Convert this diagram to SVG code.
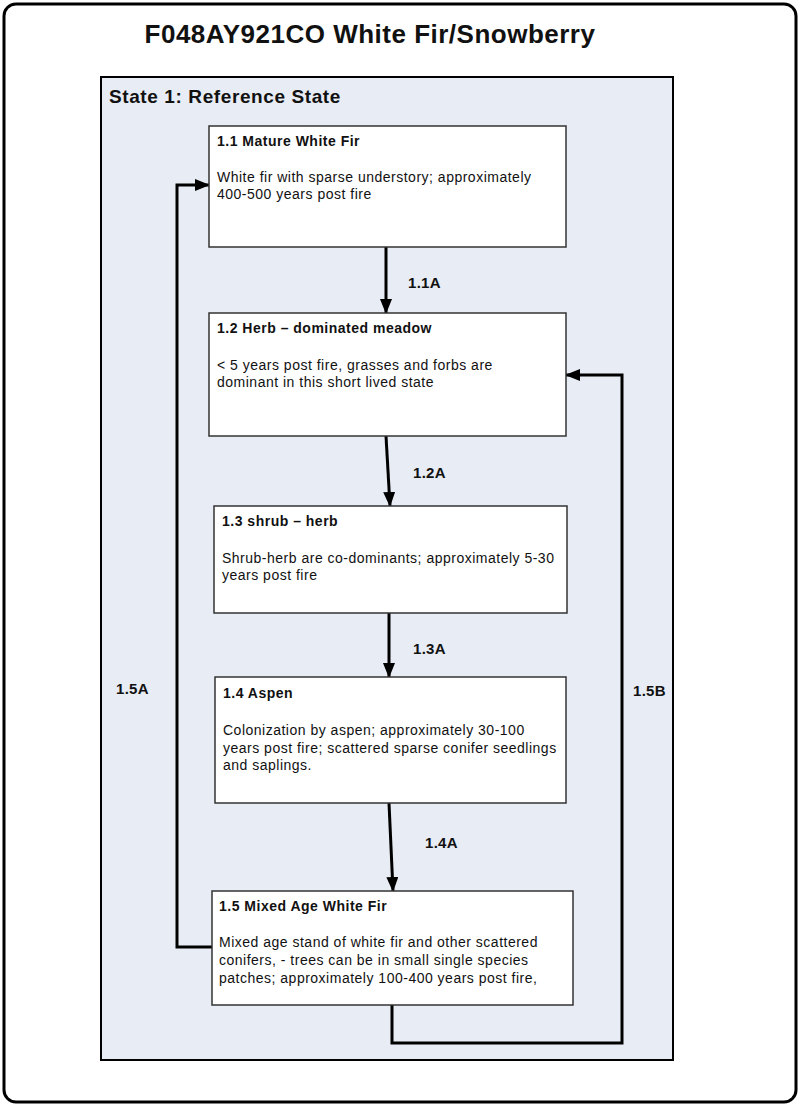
<svg xmlns="http://www.w3.org/2000/svg" width="800" height="1106" viewBox="0 0 800 1106">
<style>
.t{font-family:"Liberation Sans",Arial,sans-serif;fill:#111}
.h{font-size:14px;font-weight:bold;letter-spacing:0.5px}
.b{font-size:14px;letter-spacing:0.5px}
.lab{font-size:15px;font-weight:bold;letter-spacing:0.3px}
.box{fill:#fff;stroke:#333;stroke-width:1.5}
.con{fill:none;stroke:#000;stroke-width:3}
</style>
<defs>
<marker id="ah" markerUnits="userSpaceOnUse" markerWidth="15" markerHeight="12" refX="14" refY="6" orient="auto">
<path d="M0,0 L15,6 L0,12 z" fill="#000"/>
</marker>
</defs>
<rect x="4" y="4" width="792" height="1098" rx="12" fill="#fff" stroke="#000" stroke-width="3"/>
<text class="t" x="370" y="43" text-anchor="middle" font-size="26" font-weight="bold" letter-spacing="0.5">F048AY921CO White Fir/Snowberry</text>
<g id="state1">
<rect x="101" y="77" width="572" height="983" fill="#e8ecf4" stroke="#000" stroke-width="2"/>
<text class="t" x="109" y="103" font-size="19" font-weight="bold" letter-spacing="0.6">State 1: Reference State</text>
</g>
<g id="connectors">
<line class="con" x1="386" y1="247" x2="386" y2="313" marker-end="url(#ah)"/>
<line class="con" x1="386" y1="436" x2="390" y2="506" marker-end="url(#ah)"/>
<line class="con" x1="389" y1="613" x2="389" y2="677" marker-end="url(#ah)"/>
<line class="con" x1="389" y1="803" x2="393" y2="891" marker-end="url(#ah)"/>
<polyline class="con" points="212,947 177,947 177,185 209,185" marker-end="url(#ah)"/>
<polyline class="con" points="392,1005 392,1043 622,1043 622,375 566,375" marker-end="url(#ah)"/>
<text class="t lab" x="408" y="288">1.1A</text>
<text class="t lab" x="413" y="478">1.2A</text>
<text class="t lab" x="413" y="654">1.3A</text>
<text class="t lab" x="425" y="848">1.4A</text>
<text class="t lab" x="116" y="694">1.5A</text>
<text class="t lab" x="633" y="696">1.5B</text>
</g>
<g id="n11">
<rect class="box" x="209" y="126" width="357" height="121"/>
<text class="t h" x="217" y="146">1.1 Mature White Fir</text>
<text class="t b" x="217" y="182">White fir with sparse understory; approximately</text>
<text class="t b" x="217" y="199">400-500 years post fire</text>
</g>
<g id="n12">
<rect class="box" x="209" y="313" width="357" height="123"/>
<text class="t h" x="217" y="333">1.2 Herb – dominated meadow</text>
<text class="t b" x="217" y="370">&lt; 5 years post fire, grasses and forbs are</text>
<text class="t b" x="217" y="387">dominant in this short lived state</text>
</g>
<g id="n13">
<rect class="box" x="214" y="506" width="353" height="107"/>
<text class="t h" x="222" y="526">1.3 shrub – herb</text>
<text class="t b" x="222" y="563">Shrub-herb are co-dominants; approximately 5-30</text>
<text class="t b" x="222" y="580">years post fire</text>
</g>
<g id="n14">
<rect class="box" x="215" y="677" width="351" height="126"/>
<text class="t h" x="223" y="698">1.4 Aspen</text>
<text class="t b" x="223" y="735">Colonization by aspen; approximately 30-100</text>
<text class="t b" x="223" y="752.5">years post fire; scattered sparse conifer seedlings</text>
<text class="t b" x="223" y="770">and saplings.</text>
</g>
<g id="n15">
<rect class="box" x="212" y="891" width="361" height="114"/>
<text class="t h" x="219" y="911">1.5 Mixed Age White Fir</text>
<text class="t b" x="219" y="947">Mixed age stand of white fir and other scattered</text>
<text class="t b" x="219" y="965">conifers, - trees can be in small single species</text>
<text class="t b" x="219" y="983">patches; approximately 100-400 years post fire,</text>
</g>
</svg>
